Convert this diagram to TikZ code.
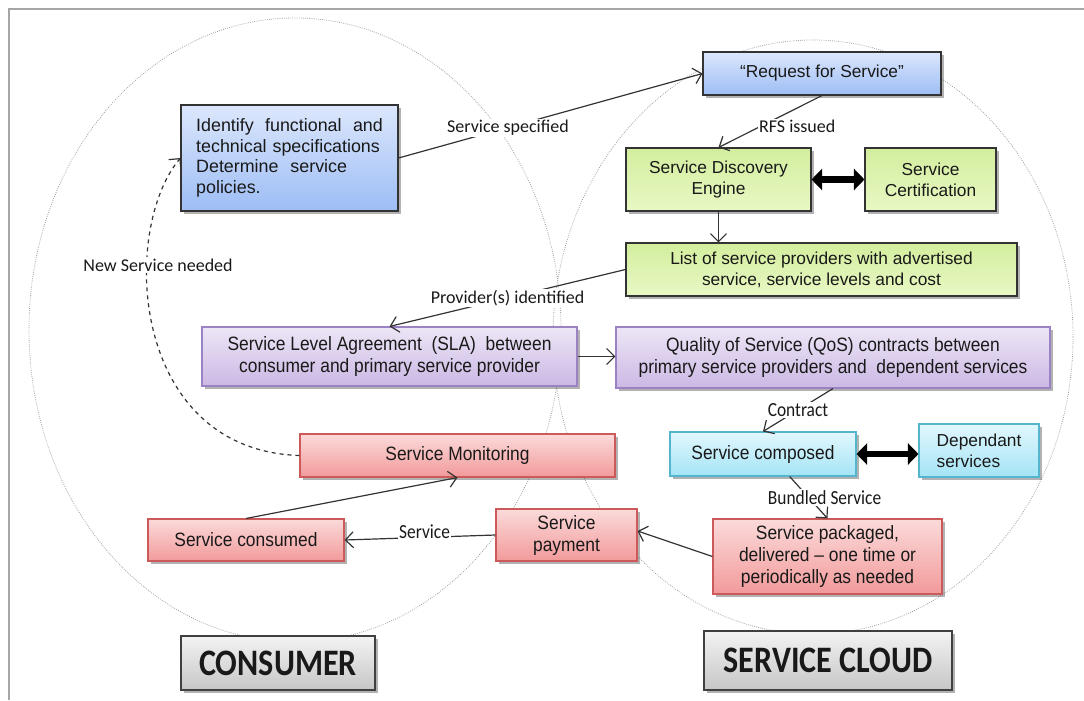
\documentclass[tikz,border=0pt]{standalone}
\usepackage{fontspec}
\setmainfont{Liberation Sans}
\newfontfamily\narrowf[FakeStretch=0.9]{Liberation Sans}
\newfontfamily\calf{Carlito}
\newfontfamily\calnarrow[FakeStretch=0.87]{Carlito}
\newfontfamily\calbig[FakeStretch=0.86]{Carlito}
\usetikzlibrary{arrows.meta,shadows}
\definecolor{blueT}{HTML}{DCE7FC}
\definecolor{blueB}{HTML}{9DBDF5}
\definecolor{greenT}{HTML}{D3EE9E}
\definecolor{greenB}{HTML}{E8F8C4}
\definecolor{purT}{HTML}{EDE6F6}
\definecolor{purB}{HTML}{CBB8E4}
\definecolor{purD}{HTML}{9A82C4}
\definecolor{redT}{HTML}{FBDADA}
\definecolor{redB}{HTML}{F29A9A}
\definecolor{redD}{HTML}{CC5A5A}
\definecolor{cyT}{HTML}{E2F7FD}
\definecolor{cyB}{HTML}{A4E4F6}
\definecolor{cyD}{HTML}{55B4CE}
\definecolor{grT}{HTML}{F3F3F3}
\definecolor{grB}{HTML}{C6C6C6}
\begin{document}
\begin{tikzpicture}[x=0.75pt,y=-0.75pt,
  sz/.style 2 args={minimum width=#1*0.75pt, minimum height=#2*0.75pt},
  box/.style={draw, line width=0.8pt, inner sep=2pt, align=center, text=black!90,
    drop shadow={shadow xshift=2pt, shadow yshift=-2pt, opacity=0.3, fill=black},
    font=\fontsize{13}{15.5}\selectfont},
  nbox/.style={box, font=\narrowf\fontsize{14.5}{16.5}\selectfont},
  bluebox/.style={box, draw=black!80, top color=blueT, bottom color=blueB},
  greenbox/.style={box, draw=black!80, top color=greenT, bottom color=greenB},
  purbox/.style={nbox, draw=purD, top color=purT, bottom color=purB},
  redbox/.style={nbox, draw=redD, top color=redT, bottom color=redB},
  cybox/.style={box, draw=cyD, top color=cyT, bottom color=cyB},
  cynbox/.style={nbox, draw=cyD, top color=cyT, bottom color=cyB},
  graybox/.style={box, draw=black!75, top color=grT, bottom color=grB,
    font=\calbig\bfseries\fontsize{28}{30}\selectfont},
  conn/.style={draw=black!80, line width=0.9pt, -{Straight Barb[length=6pt,width=12pt]}},
  fat/.style={draw=black, line width=5pt, {Triangle[length=8pt,width=16pt]}-{Triangle[length=8pt,width=16pt]}},
  lbl/.style={fill=white, inner sep=1pt, text=black!90, font=\calf\fontsize{13.5}{15}\selectfont},
  nlbl/.style={fill=white, inner sep=1pt, text=black!90, font=\calnarrow\fontsize{15}{16}\selectfont},
  ell/.style={draw=gray!75, densely dotted, line width=0.6pt}
]
\useasboundingbox (0,0) rectangle (1084,700);
\draw[gray!70, line width=0.8pt] (9,700) -- (9,9) -- (1084,9);
% ellipses
\draw[ell] (295,330) ellipse [x radius=199.5pt, y radius=234pt];
\draw[ell] (813,337) ellipse [x radius=195pt, y radius=222.75pt];

% nodes
\node[bluebox, sz={217}{106}, align=left, text width=140pt, font=\fontsize{13.4}{15.5}\selectfont] (idf) at (289.5,158)
  {\makebox[\linewidth][s]{Identify \hfill functional \hfill and}\\
   \makebox[\linewidth][s]{technical specifications}\\
   Determine\ \ service\\ policies.};
\node[bluebox, sz={238}{43}] (req) at (822,73.5) {“Request for Service”};
\node[greenbox, sz={185}{63}] (sde) at (718.5,179.5) {Service Discovery\\Engine};
\node[greenbox, sz={131}{63}] (cert) at (930.5,179.5) {Service\\Certification};
\node[greenbox, sz={391}{53}] (list) at (821.5,269.5) {List of service providers with advertised\\service, service levels and cost};
\node[purbox, sz={375}{59}] (sla) at (389.5,356.5) {Service Level Agreement\ \ (SLA)\ \ between\\consumer and primary service provider};
\node[purbox, sz={434}{61}] (qos) at (833,357.5) {Quality of Service (QoS) contracts between\\primary service providers and\ \ dependent services};
\node[redbox, sz={315}{43}] (mon) at (457.5,455.5) {Service Monitoring};
\node[cynbox, sz={186}{44}] (comp) at (763,454) {Service composed};
\node[cybox, sz={120}{53}, align=left] (dep) at (979,450.5) {Dependant\\services};
\node[redbox, sz={196}{42}] (cons) at (246,540) {Service consumed};
\node[redbox, sz={141}{52}] (pay) at (566.5,535) {Service\\payment};
\node[redbox, sz={229}{75}] (pack) at (827.5,556.5) {Service packaged,\\delivered – one time or\\periodically as needed};
\node[graybox, sz={194}{54}] (consumer) at (278,663) {CONSUMER};
\node[graybox, sz={248}{59}] (cloud) at (828,660.5) {SERVICE CLOUD};

% connectors
\draw[conn] (idf.east) -- node[lbl, pos=0.36] {Service specified} (req.west);
\draw[conn] (req.south) -- node[lbl, pos=0.6, anchor=west, xshift=-2pt] {RFS issued} (sde.north);
\draw[fat] (sde.east) -- (cert.west);
\draw[conn] (sde.south) -- (sde.south |- list.north);
\draw[conn] (list.west) -- node[lbl, pos=0.5] {Provider(s) identified} (sla.north);
\draw[conn] (sla.east) -- (qos.west |- sla.east);
\draw[conn] (qos.south) -- node[nlbl, pos=0.5] {Contract} (comp.north);
\draw[fat] (comp.east) -- (dep.west |- comp.east);
\draw[conn] ([xshift=20pt]comp.south) -- node[nlbl, pos=0.5, xshift=12pt] {Bundled Service} (pack.north);
\draw[conn] (pack.west) -- ([yshift=3pt]pay.east);
\draw[conn] (pay.west) -- node[nlbl, pos=0.47, yshift=4pt] {Service} (cons.east);
\draw[conn] (cons.north) -- (mon.south);
\draw[conn, dashed] (mon.west) .. controls (130,450) and (120,230) .. (idf.west);
\node[lbl] (newsvc) at (158,265) {New Service needed};
\end{tikzpicture}
\end{document}
